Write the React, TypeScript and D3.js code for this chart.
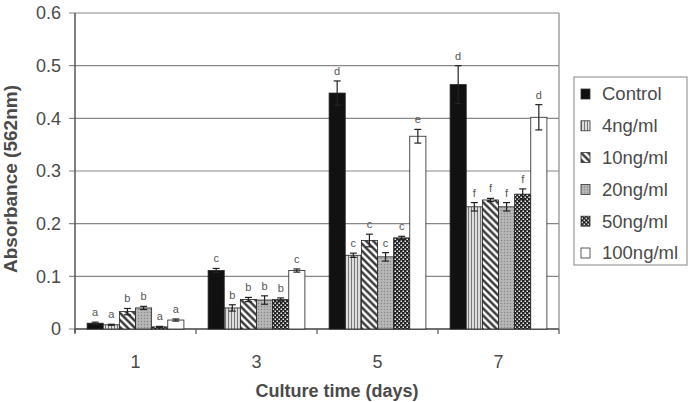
import React from 'react';
import * as d3 from 'd3';

const WIDTH = 695;
const HEIGHT = 402;
const MARGIN = { left: 75, right: 136, top: 13, bottom: 73 };

const DAYS = ['1', '3', '5', '7'];
const SERIES = ['Control', '4ng/ml', '10ng/ml', '20ng/ml', '50ng/ml', '100ng/ml'];
const Y_TICKS = [0, 0.1, 0.2, 0.3, 0.4, 0.5, 0.6];

// one array per series, values for days 1,3,5,7
const CONTROL = [0.011, 0.111, 0.448, 0.464];
const NG4 = [0.008, 0.04, 0.14, 0.232];
const NG10 = [0.033, 0.056, 0.168, 0.245];
const NG20 = [0.04, 0.055, 0.137, 0.232];
const NG50 = [0.004, 0.056, 0.173, 0.256];
const NG100 = [0.017, 0.111, 0.366, 0.402];

const ERR_CONTROL = [0.002, 0.004, 0.023, 0.036];
const ERR_NG4 = [0.001, 0.006, 0.004, 0.008];
const ERR_NG10 = [0.006, 0.004, 0.012, 0.003];
const ERR_NG20 = [0.003, 0.008, 0.008, 0.008];
const ERR_NG50 = [0.001, 0.003, 0.003, 0.01];
const ERR_NG100 = [0.002, 0.003, 0.013, 0.024];

const LETTERS_CONTROL = ['a', 'c', 'd', 'd'];
const LETTERS_NG4 = ['a', 'b', 'c', 'f'];
const LETTERS_NG10 = ['b', 'b', 'c', 'f'];
const LETTERS_NG20 = ['b', 'b', 'c', 'f'];
const LETTERS_NG50 = ['a', 'b', 'c', 'f'];
const LETTERS_NG100 = ['a', 'c', 'e', 'd'];

const VALUES = [CONTROL, NG4, NG10, NG20, NG50, NG100];
const ERRORS = [ERR_CONTROL, ERR_NG4, ERR_NG10, ERR_NG20, ERR_NG50, ERR_NG100];
const LETTERS = [LETTERS_CONTROL, LETTERS_NG4, LETTERS_NG10, LETTERS_NG20, LETTERS_NG50, LETTERS_NG100];
const FILLS = ['#111', 'url(#pVert)', 'url(#pDiag)', 'url(#pDots)', 'url(#pCheck)', '#fff'];

const FONT = '"Liberation Sans", Arial, sans-serif';
const TEXT = '#4a4a4a';

export default function App() {
  const x = d3.scaleBand<string>()
    .domain(DAYS)
    .range([MARGIN.left, WIDTH - MARGIN.right])
    .paddingInner(0.2)
    .paddingOuter(0.1);
  const xs = d3.scaleBand<string>().domain(SERIES).range([0, x.bandwidth()]);
  const y = d3.scaleLinear().domain([0, 0.6]).range([HEIGHT - MARGIN.bottom, MARGIN.top]);
  const step = x.step();
  const x0 = MARGIN.left;
  const x1 = WIDTH - MARGIN.right;

  const bars = [];
  SERIES.forEach((s, si) => {
    DAYS.forEach((d, di) => {
      const v = VALUES[si][di];
      const e = ERRORS[si][di];
      const bx = (x(d) as number) + (xs(s) as number);
      const bw = xs.bandwidth();
      const cx = bx + bw / 2;
      const lo = y(Math.max(0, v - e));
      bars.push(
        <g key={s + d}>
          <rect x={bx} y={y(v)} width={bw} height={y(0) - y(v)} fill={FILLS[si]} stroke="#222" strokeWidth={0.8} />
          <line x1={cx} x2={cx} y1={y(v + e)} y2={lo} stroke="#222" strokeWidth={1.2} />
          <line x1={cx - 3.5} x2={cx + 3.5} y1={y(v + e)} y2={y(v + e)} stroke="#222" strokeWidth={1.2} />
          <line x1={cx - 3.5} x2={cx + 3.5} y1={lo} y2={lo} stroke="#222" strokeWidth={1.2} />
          <text x={cx} y={y(v + e) - 6} textAnchor="middle" fontSize={11} fontFamily={FONT} fill="#555">{LETTERS[si][di]}</text>
        </g>
      );
    });
  });

  return (
    <svg width={WIDTH} height={HEIGHT} style={{ position: 'absolute', left: 0, top: 0, background: '#fff' }}>
      <defs>
        <pattern id="pVert" width="3" height="3" patternUnits="userSpaceOnUse">
          <rect width="3" height="3" fill="#ddd" />
          <line x1="0.5" x2="0.5" y1="0" y2="3" stroke="#777" strokeWidth="1" />
        </pattern>
        <pattern id="pDiag" width="5" height="5" patternUnits="userSpaceOnUse" patternTransform="rotate(45)">
          <rect width="5" height="5" fill="#fff" />
          <line x1="0" x2="5" y1="1.5" y2="1.5" stroke="#222" strokeWidth="2.2" />
        </pattern>
        <pattern id="pDots" width="3" height="3" patternUnits="userSpaceOnUse">
          <rect width="3" height="3" fill="#b0b0b0" />
          <rect x="0" y="0" width="1" height="1" fill="#888" />
          <rect x="1.5" y="1.5" width="1" height="1" fill="#ccc" />
        </pattern>
        <pattern id="pCheck" width="4" height="4" patternUnits="userSpaceOnUse">
          <rect width="4" height="4" fill="#222" />
          <rect x="0.5" y="0.5" width="1.5" height="1.5" fill="#eee" />
          <rect x="2.5" y="2.5" width="1.5" height="1.5" fill="#eee" />
        </pattern>
      </defs>

      {Y_TICKS.map((t) => (
        <g key={t}>
          <line x1={x0 - 6} x2={x1} y1={y(t)} y2={y(t)} stroke="#888" strokeWidth={1.2} />
          <text x={x0 - 14} y={y(t)} dy="0.35em" textAnchor="end" fontSize={18} fontFamily={FONT} fill={TEXT}>
            {t === 0 ? '0' : t.toFixed(1)}
          </text>
        </g>
      ))}
      <line x1={x1} x2={x1} y1={y(0.6)} y2={y(0)} stroke="#888" strokeWidth={1.2} />
      <line x1={x0} x2={x0} y1={y(0.6)} y2={y(0) + 4} stroke="#555" strokeWidth={1.5} />
      <line x1={x0} x2={x1} y1={y(0)} y2={y(0)} stroke="#555" strokeWidth={1.5} />
      {d3.range(DAYS.length + 1).map((i) => (
        <line key={i} x1={x0 + i * step} x2={x0 + i * step} y1={y(0)} y2={y(0) + 5} stroke="#555" strokeWidth={1.2} />
      ))}
      {DAYS.map((d) => (
        <text key={d} x={(x(d) as number) + x.bandwidth() / 2} y={368} textAnchor="middle" fontSize={18} fontFamily={FONT} fill={TEXT}>{d}</text>
      ))}

      {bars}

      <text x={(x0 + x1) / 2 + 20} y={397} textAnchor="middle" fontSize={18} fontWeight="bold" fontFamily={FONT} fill={TEXT}>Culture time (days)</text>
      <text transform={`translate(17,${(y(0) + y(0.6)) / 2 + 8}) rotate(-90)`} textAnchor="middle" fontSize={19} fontWeight="bold" fontFamily={FONT} fill={TEXT}>Absorbance (562nm)</text>

      <g>
        <rect x={574} y={77} width={113} height={188} fill="#fff" stroke="#999" strokeWidth={1.2} />
        {SERIES.map((s, i) => (
          <g key={s} transform={`translate(581,${94 + i * 31.8})`}>
            <rect x={0} y={-5} width={9} height={10} fill={FILLS[i]} stroke="#333" strokeWidth={0.8} />
            <text x={21} y={0} dy="0.35em" fontSize={18.5} fontFamily={FONT} fill={TEXT}>{s}</text>
          </g>
        ))}
      </g>
    </svg>
  );
}
